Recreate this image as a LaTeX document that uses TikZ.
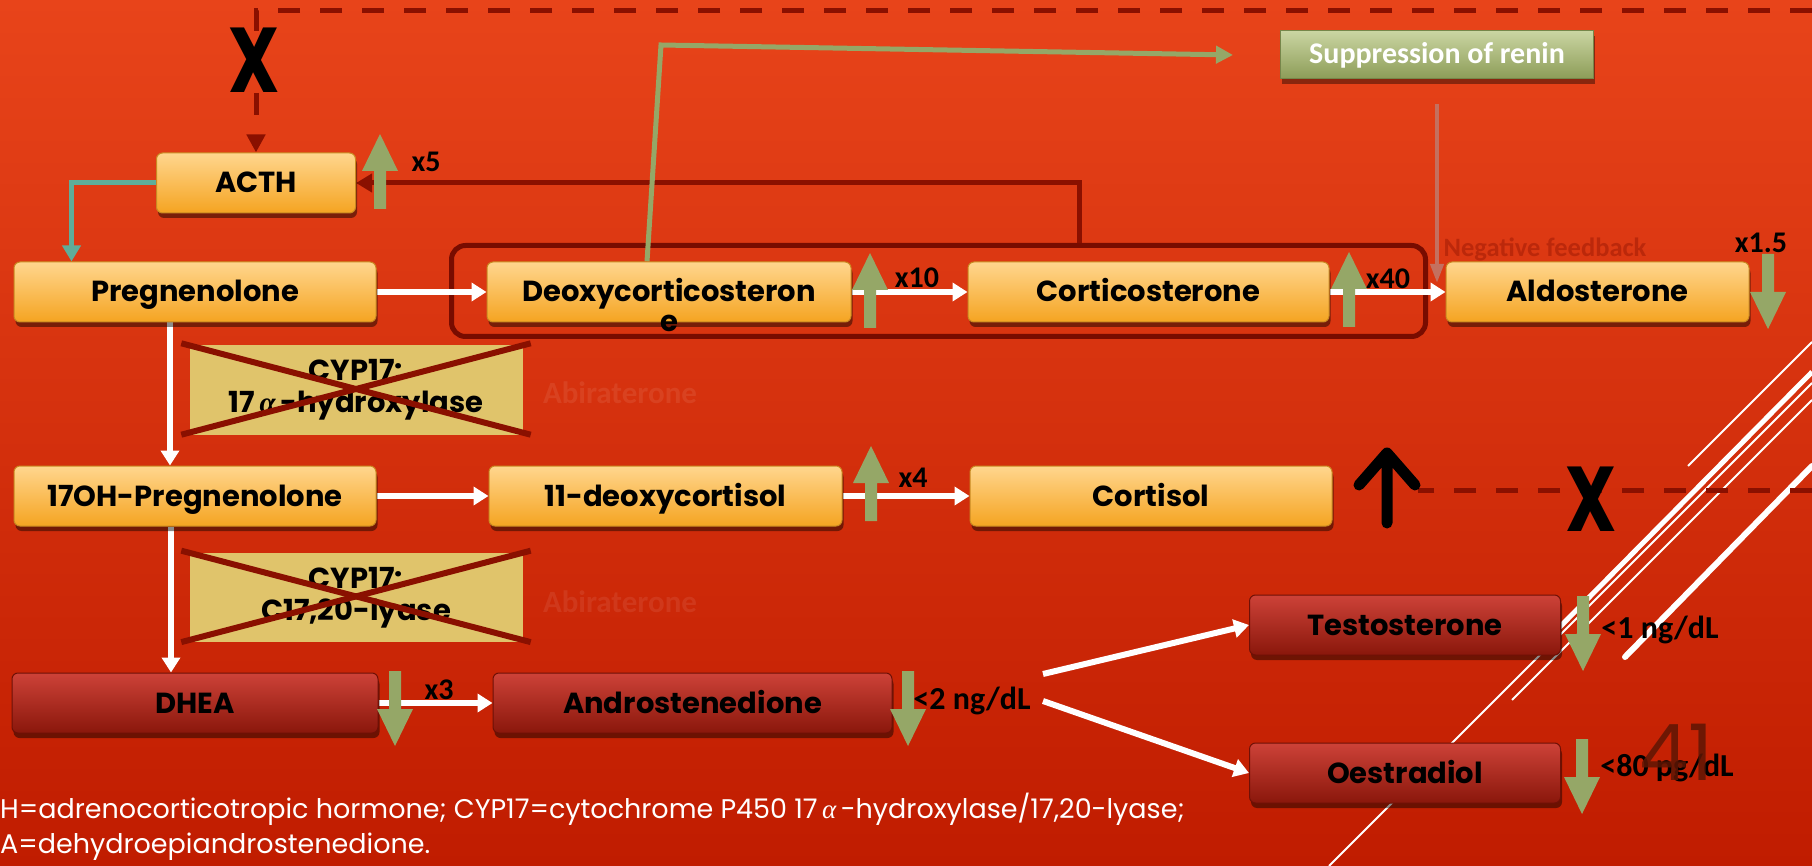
\documentclass[tikz,border=0pt]{standalone}
\usepackage{graphicx}
\usepackage{fontspec}
\setmainfont{Poppins}
\newfontfamily\calibrifont{Carlito}
\newfontfamily\greekfont{Liberation Serif}
\usetikzlibrary{positioning,arrows.meta,shadows,fit}
\pgfdeclarelayer{bglayer}
\pgfdeclarelayer{edgelayer}
\pgfsetlayers{bglayer,edgelayer,main}

\definecolor{bgtop}{HTML}{E8441A}
\definecolor{bgbot}{HTML}{C01C00}
\definecolor{darkred}{HTML}{8A1000}
\definecolor{groupred}{HTML}{780C00}
\definecolor{orangetop}{HTML}{FFD68E}
\definecolor{orangebot}{HTML}{F5A421}
\definecolor{orangeedge}{HTML}{C98A22}
\definecolor{redtop}{HTML}{CD4238}
\definecolor{redbot}{HTML}{8A170B}
\definecolor{rededge}{HTML}{6E1006}
\definecolor{arrowgreen}{HTML}{95A767}
\definecolor{tealline}{HTML}{5FAD99}
\definecolor{tanfill}{HTML}{E0C46B}
\definecolor{renintop}{HTML}{CAD5A2}
\definecolor{reninbot}{HTML}{8C9C57}
\definecolor{reninedge}{HTML}{76864A}
\definecolor{pinkline}{HTML}{C4705F}
\definecolor{slidenum}{HTML}{5E1604}

\newcommand{\boxfont}{\fontsize{29}{32}\selectfont\bfseries}
\newcommand{\numfont}{\calibrifont\fontsize{30}{34}\selectfont\bfseries}
\newcommand{\levelfont}{\calibrifont\fontsize{32}{36}\selectfont\bfseries}
\newcommand{\notefont}{\fontsize{27}{38}\selectfont}
\newcommand{\bigxfont}{\fontsize{92}{92}\selectfont\bfseries}
\newcommand{\ialpha}{{\greekfont\itshape α}}

\tikzset{>={Triangle[length=15pt,width=18pt]}}
\tikzset{
  hbox/.style={rectangle, rounded corners=6pt, minimum height=60pt, inner sep=0pt,
    line width=1pt, font=\boxfont, text=black, text height=20pt, text depth=0pt,
    drop shadow={shadow xshift=1.5pt, shadow yshift=-5pt, opacity=0.45, fill=black}},
  orangebox/.style={hbox, draw=orangeedge, top color=orangetop, bottom color=orangebot},
  redbox/.style={hbox, draw=rededge, top color=redtop, bottom color=redbot},
  reninbox/.style={rectangle, minimum width=313pt, minimum height=48pt, inner sep=0pt,
    line width=1pt, draw=reninedge, top color=renintop, bottom color=reninbot,
    text=white, font=\calibrifont\fontsize{30}{34}\selectfont\bfseries,
    drop shadow={shadow xshift=1.5pt, shadow yshift=-5pt, opacity=0.4, fill=black}},
  enzbox/.style={rectangle, fill=tanfill, minimum width=333pt, minimum height=89pt,
    inner sep=0pt, align=center, font=\boxfont},
  boxtext/.style={font=\boxfont, inner sep=0pt},
  groupbox/.style={draw=groupred, line width=5pt, rounded corners=14pt, inner sep=0pt},
  crossline/.style={draw=darkred, line width=6pt},
  flowarrow/.style={draw=white, line width=6pt, ->},
  dashline/.style={draw=darkred, line width=5pt, dash pattern=on 22pt off 20pt},
  fbline/.style={draw=darkred, line width=5pt, -{Triangle[length=16pt,width=18pt]}},
  tealarrow/.style={draw=tealline, line width=5pt, -{Triangle[length=16pt,width=18pt]}},
  reninline/.style={draw=arrowgreen, line width=5pt, -{Triangle[length=17pt,width=17pt]}},
  pinkarrow/.style={draw=pinkline, line width=4pt, -{Triangle[length=19pt,width=13pt]}},
  deco/.style={draw=white},
  numlabel/.style={font=\numfont, inner sep=0pt},
  levellabel/.style={font=\levelfont, inner sep=0pt},
  fadedlabel/.style={font=\calibrifont\fontsize{31}{34}\selectfont\bfseries, text=white, text opacity=0.08, inner sep=0pt},
  feedlabel/.style={font=\calibrifont\fontsize{26.5}{30}\selectfont\bfseries, text=darkred, text opacity=0.4, inner sep=0pt},
  bigx/.style={font=\bigxfont, inner sep=0pt},
  footnote/.style={font=\notefont, text=white, anchor=west, inner sep=0pt},
  greenup/.pic={\fill[arrowgreen] (-6,0) -- (-6,-38) -- (-18,-38) -- (0,-75) -- (18,-38) -- (6,-38) -- (6,0) -- cycle;},
  greendown/.pic={\fill[arrowgreen] (-6,0) -- (-6,38) -- (-18,38) -- (0,75) -- (18,38) -- (6,38) -- (6,0) -- cycle;},
  openup/.pic={\draw[line width=11pt, line cap=round, line join=round] (0,0) -- (0,-70) (-28,-38) -- (0,-70) -- (28,-38);}
}

\begin{document}
\begin{tikzpicture}[x=1pt, y=-1pt]

  \useasboundingbox (0,0) rectangle (1812,866);
  \clip (0,0) rectangle (1812,866);

  % Nodes
  \node[orangebox, minimum width=199pt] (acth) at (256,183) {ACTH};
  \node[orangebox, minimum width=362pt] (preg) at (195,292) {Pregnenolone};
  \node[orangebox, minimum width=364pt, right=110pt of preg] (doc) {Deoxycorticosteron};
  \node[boxtext, anchor=base] (doce) at ([yshift=-40pt]doc.center) {e};
  \node[orangebox, minimum width=361pt, right=116pt of doc] (cort) {Corticosterone};
  \node[orangebox, minimum width=303pt, right=116pt of cort] (aldo) {Aldosterone};
  \node[reninbox] (renin) at (1437,55) {Suppression of renin};
  \node[enzbox] (cyp1) at (356,390) {CYP17:\\17\,\ialpha\,-hydroxylase};
  \node[orangebox, minimum width=362pt, below=143pt of preg] (oh17) {17OH-Pregnenolone};
  \node[orangebox, minimum width=353pt, right=112pt of oh17] (deo11) {11-deoxycortisol};
  \node[orangebox, minimum width=362pt, right=127pt of deo11] (cortisol) {Cortisol};
  \node[enzbox, below=118pt of cyp1] (cyp2) {CYP17:\\C17,20-lyase};
  \node[redbox, minimum width=366pt, below=146pt of oh17] (dhea) {DHEA};
  \node[redbox, minimum width=399pt, right=114pt of dhea] (andro) {Androstenedione};
  \node[redbox, minimum width=311pt] (testo) at (1405,625) {Testosterone};
  \node[redbox, minimum width=311pt, below=87pt of testo] (oestr) {Oestradiol};

  % Labels
  \node[numlabel] (x5) at (426,162) {x5};
  \node[numlabel] (x10) at (917,278) {x10};
  \node[numlabel] (x40) at (1388,279) {x40};
  \node[numlabel] (x15) at (1761,243) {x1.5};
  \node[numlabel] (x4) at (913,478) {x4};
  \node[numlabel] (x3) at (439,690) {x3};
  \node[levellabel] (lvandro) at (972,701) {<2 ng/dL};
  \node[levellabel] (lvtesto) at (1660,630) {<1 ng/dL};
  \node[levellabel] (lvoestr) at (1667,768) {<80 pg/dL};
  \node[feedlabel] (negfb) at (1545,249) {Negative feedback};
  \node[fadedlabel] (abi1) at (620,393) {Abiraterone};
  \node[fadedlabel] (abi2) at (620,602) {Abiraterone};
  \node[bigx] (xtop) at (254,60) {\scalebox{0.78}[1]{X}};
  \node[bigx] (xmid) at (1591,499) {\scalebox{0.78}[1]{X}};
  \node[font=\fontsize{78}{78}\selectfont, text=slidenum, text opacity=0.85, inner sep=0pt] (slide) at (1676,752) {41};
  \node[footnote] (note1) at (0,809) {H=adrenocorticotropic hormone; CYP17=cytochrome P450 17\,\ialpha\,-hydroxylase/17,20-lyase;};
  \node[footnote] (note2) at (0,847) {A=dehydroepiandrostenedione.};

  % Coordinates
  \coordinate (gbnw) at ([shift={(-35pt,16pt)}]doc.north west);
  \coordinate (gbse) at ([shift={(96pt,-14pt)}]cort.south east);
  \coordinate (fbfoot) at ([xshift=112pt]cort.west);
  \coordinate (topend) at (1812,11);
  \coordinate (midend) at (1812,490);
  \coordinate (dashstop) at (1418,490);
  \coordinate (reninbend) at (661,45);
  \coordinate (reninend) at ([xshift=-47pt]renin.west);
  \coordinate (pinktop) at ([yshift=-25pt]renin.south);
  \coordinate (pinkend) at ([yshift=9pt]aldo.west -| pinktop);
  \coordinate (split1) at (1043,674);
  \coordinate (split2) at (1043,701);
  \coordinate (blkbase) at (1387,523);

  % Background
  \begin{pgfonlayer}{bglayer}
    \shade[top color=bgtop, bottom color=bgbot] (0,0) rectangle (1812,866);
    \draw[deco, line width=2pt] (1688,466) -- (1812,342);
    \draw[deco, line width=5pt] (1540,647) -- (1812,372);
    \draw[deco, line width=2pt] (1329,866) -- (1812,383);
    \draw[deco, line width=2pt] (1512,700) -- (1812,400);
    \draw[deco, line width=6pt, line cap=round] (1625,657) -- (1812,466);
  \end{pgfonlayer}

  % Edges
  \begin{pgfonlayer}{edgelayer}
    \node[groupbox, fit=(gbnw)(gbse)] (mcbox) {};
    \draw[dashline, -{Triangle[length=18pt,width=18pt]}] (topend) -| (acth.north);
    \draw[dashline] (midend) -- (dashstop);
    \draw[fbline] (fbfoot |- mcbox.north) |- (acth.east);
    \draw[tealarrow] (acth.west) -| ([xshift=58pt]preg.north west);
    \draw[reninline] ([xshift=-22pt]doc.north) -- (reninbend) -- (reninend);
    \draw[pinkarrow] (pinktop) -- (pinkend);
    \draw[flowarrow] (preg) -- (doc);
    \draw[flowarrow] (doc) -- (cort);
    \draw[flowarrow] (cort) -- (aldo);
    \draw[flowarrow] (oh17) -- (deo11);
    \draw[flowarrow] (deo11) -- (cortisol);
    \draw[flowarrow] (dhea) -- (andro);
    \draw[flowarrow] ([xshift=-25pt]preg.south) -- ([xshift=-25pt]oh17.north);
    \draw[flowarrow] ([xshift=-24pt]oh17.south) -- ([xshift=-24pt]dhea.north);
    \draw[flowarrow] (split1) -- (testo.west);
    \draw[flowarrow] (split2) -- (oestr.west);
  \end{pgfonlayer}

  % Enzyme blocks
  \draw[crossline] ([shift={(-8pt,2pt)}]cyp1.north west) -- ([xshift=8pt]cyp1.south east);
  \draw[crossline] ([shift={(8pt,2pt)}]cyp1.north east) -- ([xshift=-8pt]cyp1.south west);
  \draw[crossline] ([shift={(-8pt,2pt)}]cyp2.north west) -- ([xshift=8pt]cyp2.south east);
  \draw[crossline] ([shift={(8pt,2pt)}]cyp2.north east) -- ([xshift=-8pt]cyp2.south west);

  % Level arrows
  \pic at (380,209) {greenup};
  \pic at (870,328) {greenup};
  \pic at (1349,327) {greenup};
  \pic at (871,521) {greenup};
  \pic at (1768,254) {greendown};
  \pic at (395,671) {greendown};
  \pic at (908,671) {greendown};
  \pic at (1583,596) {greendown};
  \pic at (1582,739) {greendown};
  \pic at (blkbase) {openup};

\end{tikzpicture}
\end{document}
